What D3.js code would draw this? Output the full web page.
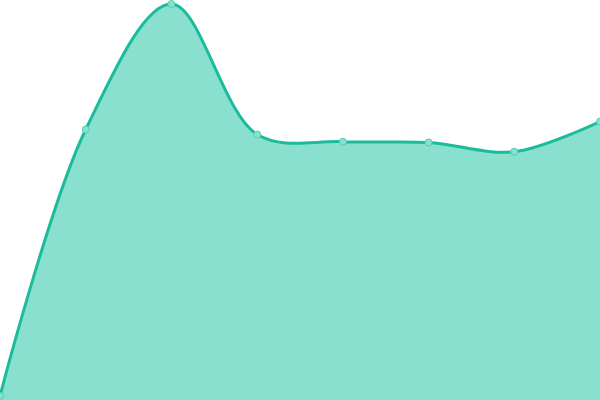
<!DOCTYPE html>
<html>
<head>
<meta charset="utf-8">
<script src="https://cdn.jsdelivr.net/npm/d3@7"></script>
<style>
  body { margin: 0; background: #fff; }
  svg { display: block; }
</style>
</head>
<body>
<svg id="chart" width="600" height="400"></svg>
<script>
// values
var categories = ["A", "B", "C", "D", "E", "F", "G", "H"];
var values = [4, 270.5, 396, 265.5, 258.3, 257.5, 248.3, 278.5];

var width = 600, height = 400;
var svg = d3.select("#chart");

var x = d3.scalePoint().domain(categories).range([0, width]);
var y = d3.scaleLinear().domain([0, 400]).range([height, 0]);

var data = categories.map(function(c, i) { return { c: c, v: values[i] }; });
var curve = d3.curveCatmullRom.alpha(0.5);

var area = d3.area().curve(curve)
  .x(function(d) { return x(d.c); })
  .y0(y(0))
  .y1(function(d) { return y(d.v); });
var line = d3.line().curve(curve)
  .x(function(d) { return x(d.c); })
  .y(function(d) { return y(d.v); });

svg.append("path").datum(data)
  .attr("d", area)
  .style("fill", "#8ae0cf");

svg.append("path").datum(data)
  .attr("d", line)
  .style("fill", "none")
  .style("stroke", "#1abc9c")
  .style("stroke-width", 3);

svg.selectAll("circle.pt").data(data).enter().append("circle")
  .attr("class", "pt")
  .attr("cx", function(d) { return x(d.c); })
  .attr("cy", function(d) { return y(d.v); })
  .attr("r", 3.5)
  .style("fill", "#8ae0cf")
  .style("stroke", "#4fcfb3")
  .style("stroke-width", 1);
</script>
</body>
</html>
